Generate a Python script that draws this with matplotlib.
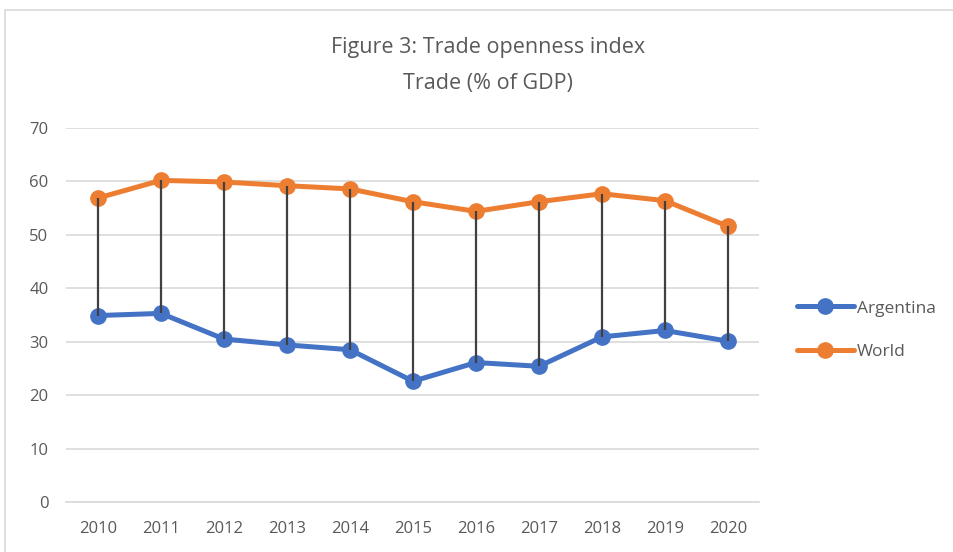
import matplotlib
matplotlib.use('Agg')

import matplotlib.pyplot as plt
from matplotlib.patches import Rectangle

# Datos
years = ['2010', '2011', '2012', '2013', '2014', '2015', '2016', '2017', '2018', '2019', '2020']
argentina = [34.9, 35.3, 30.5, 29.4, 28.5, 22.6, 26.1, 25.4, 30.9, 32.1, 30.1]
world = [56.9, 60.2, 59.9, 59.2, 58.6, 56.2, 54.4, 56.2, 57.7, 56.4, 51.6]
yticks = [0, 10, 20, 30, 40, 50, 60, 70]

plt.rcParams['font.family'] = ['Open Sans', 'DejaVu Sans']

fig = plt.figure(figsize=(9.54, 5.52), dpi=100)
ax = fig.add_axes([0.0697, 0.0906, 0.7264, 0.6775])

x = range(len(years))

# lineas max-min entre las dos series
ax.vlines(x, argentina, world, color='#404040', lw=1.6, zorder=4)

ax.plot(x, argentina, color='#4472C4', lw=3.6, marker='o', markersize=11,
        label='Argentina', zorder=3, solid_capstyle='round')
ax.plot(x, world, color='#ED7D31', lw=3.6, marker='o', markersize=11,
        label='World', zorder=3, solid_capstyle='round')

ax.set_xlim(-0.5, len(years) - 0.5)
ax.set_ylim(0, 70)
ax.set_yticks(yticks)
ax.set_xticks(list(x))
ax.set_xticklabels(years)
ax.tick_params(axis='both', length=0, labelsize=12, colors='#595959')
ax.tick_params(axis='x', pad=13.5)
ax.tick_params(axis='y', pad=13)
ax.grid(axis='y', color='#d9d9d9', lw=1.2)
ax.set_axisbelow(True)
for s in ['top', 'right', 'left']:
    ax.spines[s].set_visible(False)
ax.spines['bottom'].set_color('#d9d9d9')
ax.spines['bottom'].set_linewidth(1.2)

fig.text(488 / 954, 1 - 47 / 552, 'Figure 3: Trade openness index', ha='center', va='center',
         fontsize=15.5, color='#595959')
fig.text(488 / 954, 1 - 83 / 552, 'Trade (% of GDP)', ha='center', va='center',
         fontsize=15.5, color='#595959')

leg = fig.legend(loc='center left', bbox_to_anchor=(781 / 954, 1 - 330 / 552), frameon=False,
                 fontsize=12.5, labelspacing=1.55, handlelength=3.3, handletextpad=0.15)
for t in leg.get_texts():
    t.set_color('#595959')

# borde del area del grafico
fig.patches.append(Rectangle((5 / 954, -0.1), 1.1, 1 - 10 / 552 + 0.1, transform=fig.transFigure,
                             fill=False, edgecolor='#d9d9d9', lw=1.2))

fig.savefig('out.png', dpi=100)
